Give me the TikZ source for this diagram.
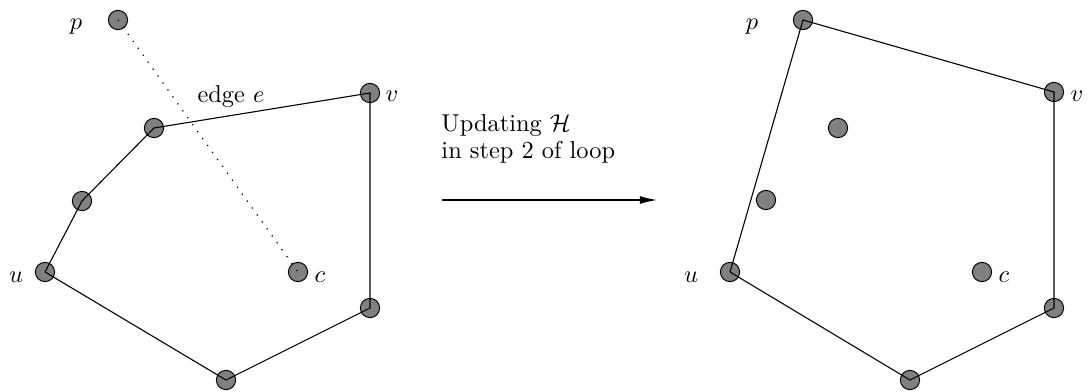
\documentclass[tikz,border=0pt]{standalone}
\usetikzlibrary{arrows.meta}
\begin{document}
\begin{tikzpicture}[x=0.41pt,y=-0.41pt,
  pt/.style={circle,draw=black,fill=gray,line width=0.4pt,minimum size=7.9pt,inner sep=0pt},
  lab/.style={inner sep=0pt},
  hull/.style={line width=0.45pt},
  probe/.style={line width=0.5pt,dash pattern=on 0.5pt off 3pt}]
\useasboundingbox (0,0) rectangle (1087,392);
% ---------- left ----------
\node[pt] (lp) at (118,20) {};
\node[pt] (lv) at (370,93) {};
\node[pt] (la) at (154,128) {};
\node[pt] (lb) at (82,201) {};
\node[pt] (lu) at (45,272) {};
\node[pt] (lc) at (298,272) {};
\node[pt] (ld) at (226,380) {};
\node[pt] (le) at (370,308) {};
\draw[hull] (lu.center) -- (lb.center) -- (la.center) -- (lv.center) -- (le.center) -- (ld.center) -- (lu.center);
\draw[probe] (lp.center) -- (lc.center);
\node[lab] (lpl) at (76,27) {$p$};
\node[lab] (lvl) at (392,96) {$v$};
\node[lab] (lul) at (16,277) {$u$};
\node[lab] (lcl) at (320,277) {$c$};
\node[lab] (edge) at (231,97) {edge $e$};
% ---------- middle ----------
\node[lab,anchor=base west] (t1) at (441,132) {Updating $\mathcal{H}$};
\node[lab,anchor=base west] (t2) at (441,159) {in step 2 of loop};
\coordinate (a1) at (442,200);
\coordinate (a2) at (657,200);
\draw[line width=0.45pt,-{Latex[length=7pt,width=3.2pt]}] (a1) -- (a2);
% ---------- right ----------
\node[pt] (rp) at (803,20) {};
\node[pt] (rv) at (1054,92) {};
\node[pt] (ra) at (838,128) {};
\node[pt] (rb) at (766,200) {};
\node[pt] (ru) at (730,272) {};
\node[pt] (rc) at (982,272) {};
\node[pt] (rd) at (910,380) {};
\node[pt] (re) at (1054,308) {};
\draw[hull] (ru.center) -- (rp.center) -- (rv.center) -- (re.center) -- (rd.center) -- (ru.center);
\node[lab] (rpl) at (752,27) {$p$};
\node[lab] (rvl) at (1077,96) {$v$};
\node[lab] (rul) at (691,277) {$u$};
\node[lab] (rcl) at (1004,277) {$c$};
\end{tikzpicture}
\end{document}
